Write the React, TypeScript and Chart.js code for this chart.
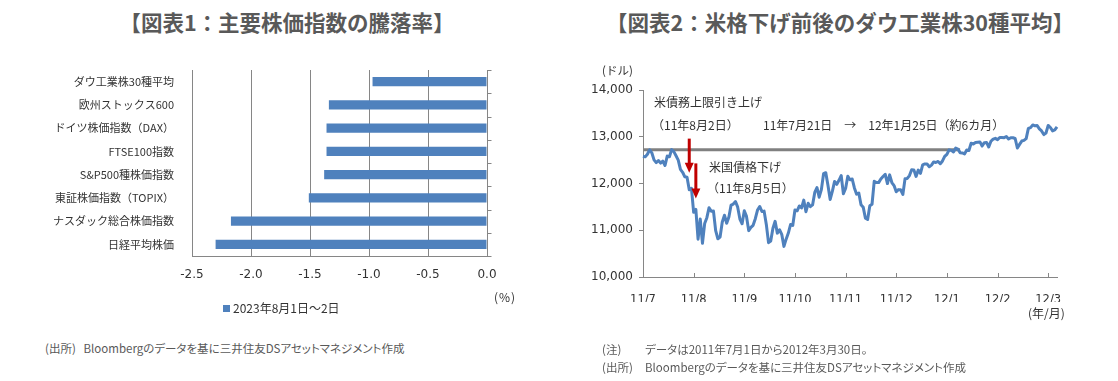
import React, { useEffect, useRef } from 'react';
import { Chart, registerables } from 'chart.js';

Chart.register(...registerables);

// ---------- Chart 1 data ----------
const indexNames = [
  'ダウ工業株30種平均',
  '欧州ストックス600',
  'ドイツ株価指数（DAX）',
  'FTSE100指数',
  'S&P500種株価指数',
  '東証株価指数（TOPIX）',
  'ナスダック総合株価指数',
  '日経平均株価',
];
const changePct = [-0.97, -1.34, -1.36, -1.36, -1.38, -1.51, -2.17, -2.30];
const pctMin = -2.5;
const pctMax = 0;
const pctStep = 0.5;
const seriesLabel1 = '2023年8月1日～2日';

// ---------- Chart 2 data ----------
const months = ['2011/7', '2011/8', '2011/9', '2011/10', '2011/11', '2011/12', '2012/1', '2012/2', '2012/3'];
const tradingDays = [
  [1, 5, 6, 7, 8, 11, 12, 13, 14, 15, 18, 19, 20, 21, 22, 25, 26, 27, 28, 29],
  [1, 2, 3, 4, 5, 8, 9, 10, 11, 12, 15, 16, 17, 18, 19, 22, 23, 24, 25, 26, 29, 30, 31],
  [1, 2, 6, 7, 8, 9, 12, 13, 14, 15, 16, 19, 20, 21, 22, 23, 26, 27, 28, 29, 30],
  [3, 4, 5, 6, 7, 10, 11, 12, 13, 14, 17, 18, 19, 20, 21, 24, 25, 26, 27, 28, 31],
  [1, 2, 3, 4, 7, 8, 9, 10, 11, 14, 15, 16, 17, 18, 21, 22, 23, 25, 28, 29, 30],
  [1, 2, 5, 6, 7, 8, 9, 12, 13, 14, 15, 16, 19, 20, 21, 22, 23, 27, 28, 29, 30],
  [3, 4, 5, 6, 9, 10, 11, 12, 13, 17, 18, 19, 20, 23, 24, 25, 26, 27, 30, 31],
  [1, 2, 3, 6, 7, 8, 9, 10, 13, 14, 15, 16, 17, 21, 22, 23, 24, 27, 28, 29],
  [1, 2, 5, 6, 7, 8, 9, 12, 13, 14, 15, 16, 19, 20, 21, 22, 23, 26, 27, 28, 29, 30],
];
const dates: string[] = months.flatMap((m, i) => tradingDays[i].map((d) => `${m}/${d}`));

const dowClose = [
  // 2011/7
  12583, 12570, 12626, 12719, 12657, 12506, 12447, 12492, 12437, 12480,
  12385, 12587, 12572, 12724, 12681, 12593, 12501, 12303, 12240, 12143,
  // 2011/8
  12132, 11867, 11896, 11384, 11445, 10810, 11240, 10720, 11143, 11269,
  11483, 11406, 11410, 10991, 10818, 10855, 11177, 11321, 11150, 11285,
  11539, 11560, 11614,
  // 2011/9
  11494, 11240, 11139, 11415, 11296, 10992, 11061, 11106, 11247, 11433,
  11509, 11401, 11409, 11125, 10734, 10771, 11044, 11191, 10938, 11011,
  10913,
  // 2011/10
  10655, 10809, 10940, 11123, 11103, 11433, 11416, 11519, 11478, 11644,
  11397, 11577, 11505, 11542, 11809, 11914, 11707, 11869, 12209, 12231,
  11955,
  // 2011/11
  11658, 11836, 12044, 11983, 12068, 12170, 11781, 11894, 12154, 12079,
  12096, 11906, 11771, 11796, 11547, 11494, 11258, 11232, 11523, 11556,
  12046,
  // 2011/12
  12020, 12019, 12098, 12150, 12196, 11998, 12184, 12021, 11955, 11823,
  11869, 11866, 11766, 12104, 12108, 12170, 12294, 12291, 12151, 12287,
  12218,
  // 2012/1
  12397, 12418, 12416, 12360, 12393, 12462, 12449, 12471, 12422, 12482,
  12579, 12624, 12720, 12709, 12676, 12757, 12735, 12660, 12654, 12633,
  // 2012/2
  12716, 12705, 12862, 12845, 12878, 12884, 12890, 12801, 12874, 12878,
  12781, 12904, 12950, 12966, 12939, 12985, 12983, 12981, 13005, 12952,
  // 2012/3
  12980, 12978, 12963, 12759, 12837, 12908, 12922, 12960, 13178, 13194,
  13253, 13233, 13239, 13170, 13125, 13046, 13081, 13242, 13198, 13126,
  13146, 13212,
];

const levelValue = 12724; // 2011/7/21 close
const levelStart = '2011/7/1';
const levelEnd = '2012/1/27';

const arrowDates = ['2011/8/2', '2011/8/5'];
const arrowFrom = [12960, 12430];
const arrowTo = [12230, 11680];

const dowMin = 10000;
const dowMax = 14000;
const dowStep = 1000;
const xTickEvery = 23;

const AXIS_GRAY = '#868686';
const BAR_BLUE = '#4f81bd';
const TEXT = '#333333';
const CJK = "'Noto Sans CJK JP', 'Noto Sans', sans-serif";
const LATIN = "'DejaVu Sans', 'Noto Sans', sans-serif";

const catTicksPlugin = {
  id: 'catTicksRight',
  afterDraw(chart: any) {
    const { ctx, chartArea } = chart;
    const y = chart.scales.y;
    const n = chart.data.labels.length;
    const half = (y.getPixelForValue(1) - y.getPixelForValue(0)) / 2;
    ctx.save();
    ctx.strokeStyle = AXIS_GRAY;
    ctx.lineWidth = 1;
    const xr = Math.round(chartArea.right) + 0.5;
    for (let i = 0; i <= n; i++) {
      const py = Math.round(y.getPixelForValue(i) - half) + 0.5;
      ctx.beginPath();
      ctx.moveTo(xr, py);
      ctx.lineTo(xr + 4, py);
      ctx.stroke();
    }
    ctx.restore();
  },
};

const dowPlugin = {
  id: 'dowExtras',
  afterDraw(chart: any) {
    const { ctx, chartArea } = chart;
    const x = chart.scales.x;
    const y = chart.scales.y;
    ctx.save();
    ctx.strokeStyle = AXIS_GRAY;
    ctx.lineWidth = 1;
    x.ticks.forEach((t: any) => {
      const px = Math.round(x.getPixelForValue(t.value)) + 0.5;
      ctx.beginPath();
      ctx.moveTo(px, chartArea.bottom);
      ctx.lineTo(px, chartArea.bottom - 4);
      ctx.stroke();
    });
    ctx.fillStyle = '#c00000';
    ctx.strokeStyle = '#c00000';
    arrowDates.forEach((d, i) => {
      const px = x.getPixelForValue(dates.indexOf(d));
      const y0 = y.getPixelForValue(arrowFrom[i]);
      const y1 = y.getPixelForValue(arrowTo[i]);
      ctx.lineWidth = 3;
      ctx.beginPath();
      ctx.moveTo(px, y0);
      ctx.lineTo(px, y1 - 9);
      ctx.stroke();
      ctx.beginPath();
      ctx.moveTo(px - 4.5, y1 - 10);
      ctx.lineTo(px + 4.5, y1 - 10);
      ctx.lineTo(px, y1);
      ctx.closePath();
      ctx.fill();
    });
    ctx.restore();
  },
};

const abs = (left: number, top: number, extra: React.CSSProperties = {}): React.CSSProperties => ({
  position: 'absolute',
  left,
  top,
  whiteSpace: 'nowrap',
  ...extra,
});

export default function App() {
  const c1 = useRef<HTMLCanvasElement>(null);
  const c2 = useRef<HTMLCanvasElement>(null);

  useEffect(() => {
    const ch1 = new Chart(c1.current as HTMLCanvasElement, {
      type: 'bar',
      data: {
        labels: indexNames,
        datasets: [
          {
            label: seriesLabel1,
            data: changePct,
            backgroundColor: BAR_BLUE,
            barPercentage: 0.39,
            categoryPercentage: 1,
          },
        ],
      },
      options: {
        indexAxis: 'y',
        responsive: false,
        animation: false,
        layout: { padding: { left: 0, right: 73, top: 70, bottom: 44 } },
        plugins: { legend: { display: false }, tooltip: { enabled: false } },
        scales: {
          x: {
            min: pctMin,
            max: pctMax,
            ticks: {
              stepSize: pctStep,
              callback: (v: any) => Number(v).toFixed(1),
              font: { family: LATIN, size: 12 },
              color: TEXT,
              padding: 12,
            },
            grid: { color: AXIS_GRAY, drawTicks: false },
            border: { color: AXIS_GRAY },
            afterFit: (s: any) => {
              s.height = 30;
            },
          },
          y: {
            grid: { display: false },
            border: { display: false },
            ticks: { font: { family: CJK, size: 11 }, color: TEXT, padding: 10 },
            afterFit: (s: any) => {
              s.width = 192;
            },
          },
        },
      } as any,
      plugins: [catTicksPlugin],
    });

    const ch2 = new Chart(c2.current as HTMLCanvasElement, {
      type: 'line',
      data: {
        labels: dates,
        datasets: [
          {
            label: 'ダウ工業株30種平均',
            data: dowClose,
            borderColor: BAR_BLUE,
            borderWidth: 3,
            pointRadius: 0,
            tension: 0,
            borderJoinStyle: 'round',
            order: 0,
          },
          {
            label: '11年7月21日水準',
            data: [
              { x: levelStart, y: levelValue },
              { x: levelEnd, y: levelValue },
            ],
            borderColor: '#808080',
            borderWidth: 3,
            pointRadius: 0,
            order: 1,
          },
        ],
      } as any,
      options: {
        responsive: false,
        animation: false,
        layout: { padding: { left: 0, right: 61, top: 50, bottom: 38 } },
        plugins: { legend: { display: false }, tooltip: { enabled: false } },
        scales: {
          x: {
            type: 'category',
            ticks: {
              autoSkip: false,
              maxRotation: 0,
              minRotation: 0,
              font: { family: LATIN, size: 11.5 },
              color: TEXT,
              padding: 8,
              callback: function (this: any, v: any) {
                const parts = String(this.getLabelForValue(v)).split('/');
                return `${parts[0].slice(2)}/${parts[1]}`;
              },
            },
            grid: { display: false },
            border: { color: AXIS_GRAY },
            afterBuildTicks: (s: any) => {
              s.ticks = s.ticks.filter((t: any) => t.value % xTickEvery === 0);
            },
            afterFit: (s: any) => {
              s.height = 25;
            },
          },
          y: {
            min: dowMin,
            max: dowMax,
            ticks: {
              stepSize: dowStep,
              callback: (v: any) => Number(v).toLocaleString('en-US'),
              font: { family: LATIN, size: 12 },
              color: TEXT,
              padding: 6,
            },
            grid: { drawOnChartArea: false, tickLength: 4, color: AXIS_GRAY },
            border: { color: AXIS_GRAY },
            afterFit: (s: any) => {
              s.width = 63;
            },
          },
        },
      } as any,
      plugins: [dowPlugin],
    });

    return () => {
      ch1.destroy();
      ch2.destroy();
    };
  }, []);

  const titleStyle: React.CSSProperties = {
    position: 'absolute',
    top: 8,
    textAlign: 'center',
    fontFamily: CJK,
    fontWeight: 700,
    fontSize: 21.5,
    lineHeight: '28px',
    color: '#595959',
    whiteSpace: 'nowrap',
  };
  const small: React.CSSProperties = { fontSize: 12, lineHeight: '16px', color: TEXT, fontFamily: CJK };
  const note: React.CSSProperties = {
    fontSize: 11.5,
    lineHeight: '14px',
    color: '#595959',
    fontFamily: CJK,
    fontFeatureSettings: '"palt"',
  };

  return (
    <div
      style={{
        position: 'absolute',
        left: 0,
        top: 0,
        width: 1118,
        height: 381,
        background: '#ffffff',
        overflow: 'hidden',
        fontFamily: CJK,
      }}
    >
      <div style={{ ...titleStyle, left: 0, width: 574 }}>【図表1：主要株価指数の騰落率】</div>
      <div style={{ ...titleStyle, left: 600, width: 480 }}>【図表2：米格下げ前後のダウ工業株30種平均】</div>

      <canvas ref={c1} width={560} height={330} style={{ position: 'absolute', left: 0, top: 0, width: 560, height: 330 }} />
      <canvas ref={c2} width={538} height={300} style={{ position: 'absolute', left: 580, top: 40, width: 538, height: 300 }} />

      {/* chart 1 legend and unit */}
      <div style={abs(223, 300, { ...small, display: 'flex', alignItems: 'center' })}>
        <span style={{ display: 'inline-block', width: 7, height: 7, background: BAR_BLUE, marginRight: 3 }} />
        <span>{seriesLabel1}</span>
      </div>
      <div style={abs(494, 289, { ...small, letterSpacing: 1 })}>(%)</div>
      <div style={abs(45, 341, note)}>(出所)&nbsp;&nbsp; Bloombergのデータを基に三井住友DSアセットマネジメント作成</div>

      {/* chart 2 texts */}
      <div style={abs(602, 62, { ...small, fontSize: 11.5 })}>(ドル)</div>
      <div style={abs(654, 94, small)}>米債務上限引き上げ</div>
      <div style={abs(652, 117, small)}>（11年8月2日）</div>
      <div style={abs(763, 117, small)}>11年7月21日　→　12年1月25日（約6カ月）</div>
      <div style={abs(709, 159, small)}>米国債格下げ</div>
      <div style={abs(707, 180, small)}>（11年8月5日）</div>
      <div style={abs(1028, 305, small)}>(年/月)</div>
      <div style={abs(602, 342, note)}>(注)</div>
      <div style={abs(645, 342, note)}>データは2011年7月1日から2012年3月30日。</div>
      <div style={abs(602, 360, note)}>(出所)</div>
      <div style={abs(645, 360, note)}>Bloombergのデータを基に三井住友DSアセットマネジメント作成</div>
    </div>
  );
}
